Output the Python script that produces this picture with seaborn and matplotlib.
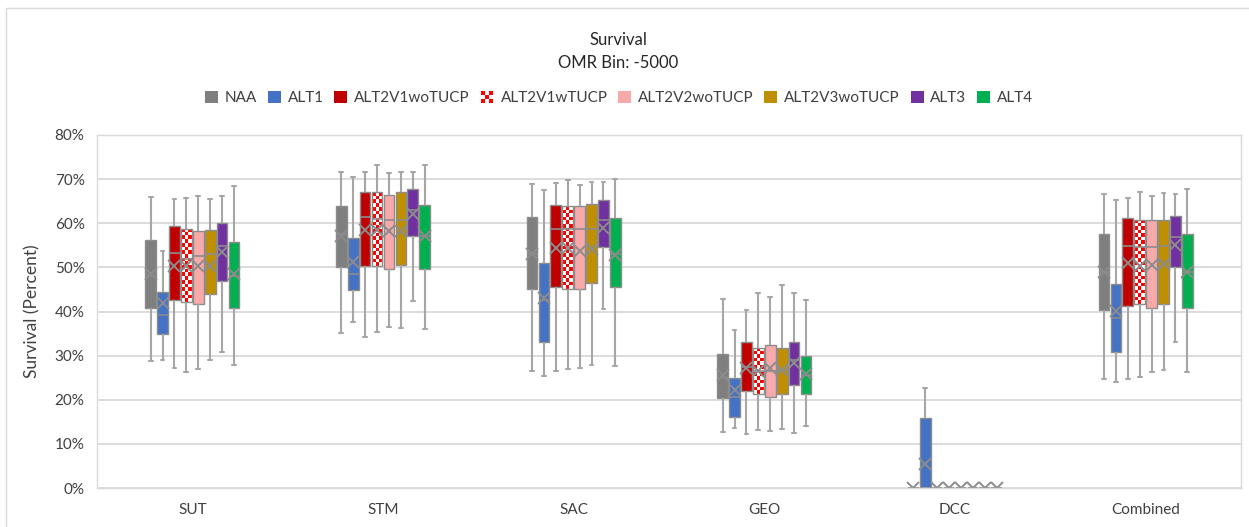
import numpy as np
import pandas as pd
import matplotlib
matplotlib.use("Agg")
import matplotlib.pyplot as plt
from matplotlib.patches import Rectangle, Patch
from matplotlib.legend_handler import HandlerBase
from matplotlib.colors import ListedColormap
from matplotlib.ticker import PercentFormatter, MultipleLocator
import seaborn as sns

# ---------------------------------------------------------------- data
categories = ["SUT", "STM", "SAC", "GEO", "DCC", "Combined"]
series = ["NAA", "ALT1", "ALT2V1woTUCP", "ALT2V1wTUCP",
          "ALT2V2woTUCP", "ALT2V3woTUCP", "ALT3", "ALT4"]

# five-number summaries (percent), one value per category
lower_whisker = {
    "NAA":          [28.8, 35.1, 26.5, 12.8, 0.0, 24.8],
    "ALT1":         [29.0, 37.7, 25.4, 13.7, 0.0, 24.0],
    "ALT2V1woTUCP": [27.1, 34.3, 26.5, 12.3, 0.0, 24.8],
    "ALT2V1wTUCP":  [26.2, 35.4, 27.0, 13.1, 0.0, 25.2],
    "ALT2V2woTUCP": [26.9, 36.6, 27.3, 12.9, 0.0, 26.2],
    "ALT2V3woTUCP": [28.9, 36.2, 27.9, 13.4, 0.0, 26.7],
    "ALT3":         [30.9, 42.4, 40.5, 12.4, 0.0, 33.0],
    "ALT4":         [27.9, 36.1, 27.7, 14.0, 0.0, 26.2],
}
q1 = {
    "NAA":          [40.7, 50.0, 45.1, 20.5, 0.0, 40.4],
    "ALT1":         [34.8, 44.8, 33.0, 16.0, 0.0, 30.9],
    "ALT2V1woTUCP": [42.5, 50.4, 45.6, 22.0, 0.0, 41.3],
    "ALT2V1wTUCP":  [42.1, 50.4, 45.1, 21.2, 0.0, 41.6],
    "ALT2V2woTUCP": [41.7, 49.7, 45.1, 20.6, 0.0, 40.7],
    "ALT2V3woTUCP": [44.0, 50.6, 46.4, 21.4, 0.0, 41.7],
    "ALT3":         [46.9, 57.0, 54.6, 23.4, 0.0, 50.0],
    "ALT4":         [40.7, 49.7, 45.6, 21.3, 0.0, 40.9],
}
median = {
    "NAA":          [48.0, 57.5, 53.0, 25.0, 0.0, 49.0],
    "ALT1":         [39.2, 48.4, 42.5, 20.7, 0.0, 38.5],
    "ALT2V1woTUCP": [53.2, 61.5, 58.6, 27.5, 0.0, 54.8],
    "ALT2V1wTUCP":  [52.0, 61.0, 58.6, 26.5, 0.0, 54.7],
    "ALT2V2woTUCP": [52.6, 60.8, 58.6, 26.5, 0.0, 54.7],
    "ALT2V3woTUCP": [53.1, 60.8, 58.6, 26.8, 0.0, 54.8],
    "ALT3":         [54.9, 63.0, 60.8, 29.0, 0.0, 56.8],
    "ALT4":         [48.0, 57.0, 53.0, 25.5, 0.0, 49.0],
}
q3 = {
    "NAA":          [56.1, 63.8, 61.4, 30.4, 0.0, 57.5],
    "ALT1":         [44.4, 56.6, 51.0, 25.0, 15.8, 46.3],
    "ALT2V1woTUCP": [59.3, 67.0, 64.1, 33.1, 0.0, 61.1],
    "ALT2V1wTUCP":  [58.7, 67.0, 63.9, 31.7, 0.0, 60.8],
    "ALT2V2woTUCP": [58.2, 66.5, 63.9, 32.5, 0.0, 60.8],
    "ALT2V3woTUCP": [58.4, 67.0, 64.3, 31.7, 0.0, 60.8],
    "ALT3":         [60.0, 67.8, 65.2, 33.1, 0.0, 61.7],
    "ALT4":         [55.8, 64.2, 61.3, 29.9, 0.0, 57.5],
}
upper_whisker = {
    "NAA":          [65.9, 71.7, 68.9, 42.8, 0.0, 66.7],
    "ALT1":         [53.8, 70.5, 67.6, 35.8, 22.6, 65.3],
    "ALT2V1woTUCP": [65.5, 71.7, 69.2, 40.4, 0.0, 65.8],
    "ALT2V1wTUCP":  [65.7, 73.1, 69.8, 44.1, 0.0, 67.0],
    "ALT2V2woTUCP": [66.2, 71.4, 68.7, 43.3, 0.0, 66.2],
    "ALT2V3woTUCP": [65.5, 71.7, 69.3, 46.0, 0.0, 66.8],
    "ALT3":         [66.2, 71.7, 69.3, 44.3, 0.0, 66.7],
    "ALT4":         [68.5, 73.2, 70.0, 42.6, 0.0, 67.8],
}
mean = {
    "NAA":          [48.5, 57.0, 53.0, 25.5, 0.0, 49.0],
    "ALT1":         [42.0, 51.2, 43.0, 22.1, 5.4, 40.2],
    "ALT2V1woTUCP": [50.4, 58.5, 54.4, 27.1, 0.0, 50.9],
    "ALT2V1wTUCP":  [50.4, 58.5, 54.4, 26.6, 0.0, 50.3],
    "ALT2V2woTUCP": [50.2, 58.2, 53.8, 27.1, 0.0, 50.6],
    "ALT2V3woTUCP": [50.3, 58.3, 54.1, 26.8, 0.0, 50.7],
    "ALT3":         [53.4, 62.0, 59.0, 28.4, 0.0, 55.1],
    "ALT4":         [48.4, 57.0, 52.8, 25.9, 0.0, 49.0],
}

colors = {
    "NAA": "#7f7f7f",
    "ALT1": "#4472c4",
    "ALT2V1woTUCP": "#c00000",
    "ALT2V1wTUCP": "#ff0000",
    "ALT2V2woTUCP": "#f8a9a9",
    "ALT2V3woTUCP": "#bf8f00",
    "ALT3": "#7030a0",
    "ALT4": "#00b050",
}
checkered = "ALT2V1wTUCP"

# long tables for seaborn
rows = []
for s in series:
    for i, c in enumerate(categories):
        for stat in (lower_whisker, q1, median, q3, upper_whisker):
            rows.append({"Region": c, "Alternative": s, "Survival": stat[s][i]})
box_df = pd.DataFrame(rows)
mean_df = pd.DataFrame([{"Region": c, "Alternative": s, "Survival": mean[s][i]}
                        for s in series for i, c in enumerate(categories)])

# ---------------------------------------------------------------- style
sns.set_theme(style="white")
plt.rcParams["font.family"] = ["Lato", "DejaVu Sans"]
text_color = "#404040"

W, H = 1249, 527
fig = plt.figure(figsize=(W / 100, H / 100), dpi=100)
ax = fig.add_axes([97 / W, 39 / H, (1241 - 97) / W, (488 - 135) / H])

palette = dict(colors)
palette[checkered] = "#ffffff"

box_width = 0.5
sns.boxplot(
    data=box_df, x="Region", y="Survival", hue="Alternative",
    order=categories, hue_order=series, palette=palette,
    width=box_width, gap=0.1, whis=(0, 100), saturation=1,
    linecolor="#8c8c8c", linewidth=1.0, fliersize=0,
    whiskerprops=dict(color="#a6a6a6", linewidth=1.5),
    capprops=dict(color="#a6a6a6", linewidth=1.5),
    medianprops=dict(color="#8c8c8c", linewidth=1.2),
    capwidths=0.02,
    legend=False, ax=ax,
)

# mean markers, dodged onto the box centres
n = len(series)
sns.pointplot(
    data=mean_df, x="Region", y="Survival", hue="Alternative",
    order=categories, hue_order=series, palette=["#8c8c8c"] * n,
    dodge=box_width * (n - 1) / n, linestyle="none", markers="x",
    errorbar=None, markersize=8, markeredgewidth=1.4,
    legend=False, ax=ax,
)

ax.set_xlim(-0.5, len(categories) - 0.5)
ax.set_ylim(0, 80)
ax.yaxis.set_major_locator(MultipleLocator(10))
ax.yaxis.set_major_formatter(PercentFormatter(100, decimals=0))
ax.grid(axis="y", color="#d9d9d9", linewidth=1.3)
ax.set_axisbelow(True)
for sp in ax.spines.values():
    sp.set_color("#d9d9d9")
    sp.set_linewidth(1.0)
ax.tick_params(axis="both", length=0, labelsize=11, colors=text_color)
ax.tick_params(axis="y", pad=9)
ax.tick_params(axis="x", pad=11)
ax.set_xlabel("")
ax.set_ylabel("Survival (Percent)", fontsize=12.5, color=text_color, labelpad=10)

# red/white checkerboard fill for the checkered series
checker_cmap = ListedColormap(["#ffffff", "#ff0000"])
cell_px = 3.6
inv = ax.transData.inverted()
for p in list(ax.patches):
    fc = p.get_facecolor()
    if not np.allclose(fc[:3], (1, 1, 1)):
        continue
    bb = p.get_window_extent()
    nx = max(int(round(bb.width / cell_px)), 1)
    ny = int(round(bb.height / cell_px))
    if ny < 1:
        continue
    (x0, y0), (x1, y1) = inv.transform([(bb.x0, bb.y0), (bb.x1, bb.y1)])
    grid = (np.add.outer(np.arange(ny), np.arange(nx)) % 2).astype(float)
    im = ax.imshow(grid, cmap=checker_cmap, vmin=0, vmax=1,
                   extent=(x0, x1, y0, y1), origin="lower",
                   aspect="auto", interpolation="nearest",
                   zorder=p.get_zorder() - 0.01)
    im.set_clip_path(p)
    p.set_facecolor("none")
ax.set_xlim(-0.5, len(categories) - 0.5)
ax.set_ylim(0, 80)


class CheckerHandler(HandlerBase):
    def create_artists(self, legend, orig_handle, xdescent, ydescent,
                       width, height, fontsize, trans):
        side = min(width, height)
        k = 3
        step = side / k
        x0 = -xdescent + (width - side) / 2
        y0 = -ydescent + (height - side) / 2
        arts = []
        for i in range(k):
            for j in range(k):
                col = "#ff0000" if (i + j) % 2 == 0 else "#ffffff"
                arts.append(Rectangle((x0 + i * step, y0 + j * step), step, step,
                                      facecolor=col, edgecolor="none",
                                      transform=trans))
        return arts


handles = []
handler_map = {}
for s in series:
    h = Patch(facecolor=colors[s], edgecolor="none", label=s)
    if s == checkered:
        handler_map[h] = CheckerHandler()
    handles.append(h)

fig.legend(handles=handles, loc="center", bbox_to_anchor=(619 / W, 1 - 98 / H),
           ncol=n, frameon=False, fontsize=11, handlelength=0.85,
           handleheight=0.85, handletextpad=0.45, columnspacing=0.7,
           handler_map=handler_map, labelcolor=text_color)

fig.text(618 / W, 1 - 40 / H, "Survival", ha="center", va="center",
         fontsize=12, color="#262626")
fig.text(618 / W, 1 - 63 / H, "OMR Bin: -5000", ha="center", va="center",
         fontsize=12, color="#262626")

# chart frame
fig.patches.append(Rectangle((6 / W, -0.1), 2.0, (H - 8) / H + 0.1,
                             transform=fig.transFigure, fill=False,
                             edgecolor="#d9d9d9", linewidth=1.0))

fig.savefig("out.png", dpi=100)
